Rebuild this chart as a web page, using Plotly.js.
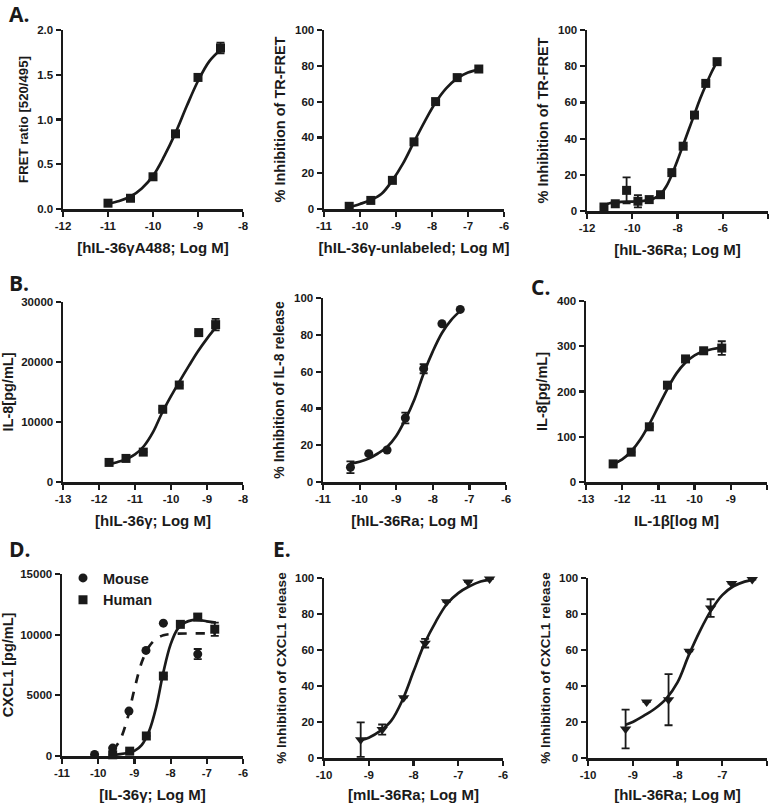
<!DOCTYPE html>
<html>
<head>
<meta charset="utf-8">
<script src="https://cdn.plot.ly/plotly-3.0.1.min.js"></script>
<style>html,body{margin:0;padding:0;background:#fff;}#chart{width:772px;height:803px;}</style>
</head>
<body>
<div id="chart"></div>
<script>
// ---------- Panel A1: hIL-36γA488 FRET ----------
const a1X = [-11, -10.5, -10, -9.5, -9, -8.5];
const a1Y = [0.065, 0.12, 0.36, 0.84, 1.47, 1.80];
const a1Err = [0, 0, 0, 0, 0, 0.06];
const a1FitX = [-11, -10.75, -10.5, -10.25, -10, -9.75, -9.5, -9.25, -9, -8.75, -8.5];
const a1FitY = [0.06, 0.09, 0.14, 0.23, 0.37, 0.59, 0.85, 1.15, 1.43, 1.65, 1.78];

// ---------- Panel A2: hIL-36γ-unlabeled ----------
const a2X = [-10.3, -9.7, -9.1, -8.5, -7.9, -7.3, -6.7];
const a2Y = [1.5, 4.8, 16, 37.5, 60, 73.4, 78.2];
const a2FitX = [-10.3, -10, -9.7, -9.4, -9.1, -8.8, -8.5, -8.2, -7.9, -7.6, -7.3, -7, -6.7];
const a2FitY = [1.0, 2.8, 5, 8.5, 16, 25.6, 37.5, 49, 59.5, 67.5, 73, 76.2, 78];

// ---------- Panel A3: hIL-36Ra TR-FRET ----------
const a3X = [-11.25, -10.75, -10.25, -9.75, -9.25, -8.75, -8.25, -7.75, -7.25, -6.75, -6.25];
const a3Y = [2.2, 4, 11.4, 5.4, 6.3, 9, 21.2, 35.8, 53, 70.5, 82.5];
const a3Err = [0, 0, 7.2, 3.4, 0, 0, 0, 0, 0, 0, 0];
const a3FitX = [-11.25, -11, -10.5, -10, -9.5, -9.25, -9, -8.75, -8.5, -8.25, -8, -7.75, -7.5, -7.25, -7, -6.75, -6.5, -6.25];
const a3FitY = [3, 4.3, 5, 5.2, 5.6, 6.2, 7.2, 9.2, 13.5, 20, 28, 36.5, 45, 53.5, 62, 69.5, 76.5, 82.5];

// ---------- Panel B1: IL-8 vs hIL-36γ ----------
const b1X = [-11.72, -11.25, -10.77, -10.23, -9.77, -9.23, -8.76];
const b1Y = [3265, 3930, 4980, 12120, 16160, 24900, 26230];
const b1Err = [0, 0, 0, 0, 0, 0, 970];
const b1FitX = [-11.75, -11.5, -11.25, -11, -10.75, -10.5, -10.25, -10, -9.75, -9.5, -9.25, -9, -8.75];
const b1FitY = [2900, 3300, 3800, 4600, 6000, 8300, 11500, 14300, 16900, 19400, 21800, 23900, 25800];

// ---------- Panel B2: % inhibition IL-8 by hIL-36Ra ----------
const b2X = [-10.25, -9.75, -9.25, -8.75, -8.25, -7.75, -7.25];
const b2Y = [8, 15.4, 17.4, 34.8, 61.6, 86, 93.8];
const b2Err = [3.2, 0, 0, 2.9, 2.5, 0, 0];
const b2FitX = [-10.25, -10, -9.75, -9.5, -9.25, -9, -8.75, -8.5, -8.25, -8, -7.75, -7.5, -7.25];
const b2FitY = [10, 11, 12.8, 15.5, 19, 25, 34, 45, 59, 71, 81, 88, 93];

// ---------- Panel C: IL-8 vs IL-1β ----------
const cX = [-12.25, -11.75, -11.25, -10.75, -10.25, -9.75, -9.25];
const cY = [40, 66, 122, 214, 272, 290, 296];
const cErr = [0, 0, 0, 0, 0, 0, 15];
const cFitX = [-12.25, -12, -11.75, -11.5, -11.25, -11, -10.75, -10.5, -10.25, -10, -9.75, -9.5, -9.25];
const cFitY = [40, 50, 68, 94, 128, 167, 206, 240, 264, 280, 289, 294, 297];

// ---------- Panel D: CXCL1 vs IL-36γ ----------
const seriesNames = ["Mouse", "Human"];
const dMouseX = [-10.1, -9.6, -9.15, -8.68, -8.2, -7.25];
const dMouseY = [120, 650, 3700, 8700, 10950, 8400];
const dMouseErr = [0, 0, 0, 0, 0, 420];
const dHumanX = [-9.6, -9.13, -8.67, -8.2, -7.73, -7.25, -6.78];
const dHumanY = [100, 400, 1650, 6590, 10850, 11450, 10450];
const dHumanErr = [0, 0, 0, 0, 0, 250, 550];
const dMouseFitX = [-9.6, -9.4, -9.2, -9, -8.8, -8.6, -8.4, -8.2, -8, -7.5, -7, -6.75];
const dMouseFitY = [450, 1300, 3000, 5500, 7700, 9000, 9650, 9950, 10050, 10100, 10100, 10100];
const dHumanFitX = [-9.6, -9.4, -9.2, -9, -8.8, -8.6, -8.4, -8.2, -8, -7.8, -7.6, -7.4, -7.2, -7, -6.75];
const dHumanFitY = [80, 150, 250, 420, 900, 2000, 4000, 6900, 9200, 10500, 11000, 11200, 11200, 11100, 11000];

// ---------- Panel E1: mIL-36Ra ----------
const e1X = [-9.18, -8.7, -8.22, -7.74, -7.26, -6.78, -6.3];
const e1Y = [10.2, 15.8, 33.5, 63.8, 86.8, 97.8, 99.4];
const e1Err = [9.6, 2.8, 0, 2.4, 0, 0, 0];
const e1FitX = [-9.18, -9, -8.75, -8.5, -8.25, -8, -7.75, -7.5, -7.25, -7, -6.75, -6.5, -6.3];
const e1FitY = [9.9, 11.3, 14.9, 20.6, 32, 48, 63.8, 75.8, 85.7, 91.6, 95.4, 98.1, 99];

// ---------- Panel E2: hIL-36Ra ----------
const e2X = [-9.16, -8.69, -8.2, -7.74, -7.26, -6.79, -6.33];
const e2Y = [16.1, 31.1, 32.4, 59.3, 83.3, 96.9, 99.1];
const e2Err = [10.8, 0, 14.2, 0, 4.9, 0, 0];
const e2FitX = [-9.16, -9, -8.75, -8.5, -8.25, -8, -7.75, -7.5, -7.25, -7, -6.75, -6.5, -6.33];
const e2FitY = [18.5, 20, 23.5, 27.5, 33, 42, 57, 70.5, 82, 90.5, 95.4, 98, 99];

// ---------- Axis tick labels / titles ----------
const xTicks1 = [-12, -11, -10, -9, -8];
const xTicks2 = [-11, -10, -9, -8, -7, -6];
const xTicks3 = [-12, -10, -8, -6, -4];
const xTicks4 = [-13, -12, -11, -10, -9, -8];
const xTicks7 = [-11, -10, -9, -8, -7, -6];
const xTicks8 = [-10, -9, -8, -7, -6];
const yTicksFret = [0, 0.5, 1.0, 1.5, 2.0];
const yTicksPct = [0, 20, 40, 60, 80, 100];
const yTicksIL8 = [0, 10000, 20000, 30000];
const yTicksC = [0, 100, 200, 300, 400];
const yTicksD = [0, 5000, 10000, 15000];
const xTitles = ["[hIL-36γA488; Log M]", "[hIL-36γ-unlabeled; Log M]", "[hIL-36Ra; Log M]",
  "[hIL-36γ; Log M]", "[hIL-36Ra; Log M]", "IL-1β[log M]",
  "[IL-36γ; Log M]", "[mIL-36Ra; Log M]", "[hIL-36Ra; Log M]"];
const yTitles = ["FRET ratio [520/495]", "% Inhibition of TR-FRET", "% Inhibition of TR-FRET",
  "IL-8[pg/mL]", "% Inhibition of IL-8 release", "IL-8[pg/mL]",
  "CXCL1 [pg/mL]", "% Inhibition of CXCL1 release", "% Inhibition of CXCL1 release"];
const panelLabels = ["A.", "B.", "C.", "D.", "E."];

const FONT = "Liberation Sans, Arial, sans-serif";
const W = 772, H = 803;
const fx = (a, b) => [a / W, b / W];
const fy = (top, bot) => [1 - bot / H, 1 - top / H];

const panels = [
  {xd: fx(63, 243), yd: fy(30, 209), xr: [-12, -8], xt: xTicks1, yr: [0, 2], yt: yTicksFret, yfmt: v => v.toFixed(1), ys: 13.2},
  {xd: fx(324, 504), yd: fy(30, 209), xr: [-11, -6], xt: xTicks2, yr: [0, 100], yt: yTicksPct, ys: 14.5},
  {xd: fx(587, 768), yd: fy(30, 211), xr: [-12, -4], xt: xTicks3, yr: [0, 100], yt: yTicksPct, ys: 14.5},
  {xd: fx(63, 243), yd: fy(302, 482), xr: [-13, -8], xt: xTicks4, yr: [0, 30000], yt: yTicksIL8, ys: 14.5},
  {xd: fx(323, 506), yd: fy(298, 482), xr: [-11, -6], xt: xTicks2, yr: [0, 100], yt: yTicksPct, ys: 14},
  {xd: fx(586, 767), yd: fy(301, 482), xr: [-13, -8], xt: xTicks4, yr: [0, 400], yt: yTicksC, ys: 14.5},
  {xd: fx(62, 243), yd: fy(574, 756), xr: [-11, -6], xt: xTicks7, yr: [0, 15000], yt: yTicksD, ys: 14.5},
  {xd: fx(324, 503), yd: fy(578, 758), xr: [-10, -6], xt: xTicks8, yr: [0, 100], yt: yTicksPct, ys: 13.5},
  {xd: fx(588, 767), yd: fy(578, 758), xr: [-10, -6], xt: xTicks8, yr: [0, 100], yt: yTicksPct, ys: 13.5}
];

const layout = {
  width: W, height: H,
  margin: {l: 0, r: 0, t: 0, b: 0},
  paper_bgcolor: "#fff", plot_bgcolor: "rgba(0,0,0,0)",
  font: {family: FONT, color: "#1a1a1a", size: 12},
  showlegend: true,
  legend: {x: 63 / W, y: 1 - 562 / H, xanchor: "left", yanchor: "top",
    bgcolor: "rgba(0,0,0,0)", font: {family: FONT, size: 14.5, weight: "bold", color: "#1a1a1a"},
    tracegroupgap: 0, itemwidth: 30},
  annotations: [],
  shapes: []
};

panels.forEach((p, i) => {
  const n = i + 1;
  const common = {showgrid: false, zeroline: false, showline: true, linecolor: "#1a1a1a", linewidth: 2.5,
    ticks: "outside", ticklen: 5, tickwidth: 2.2, tickcolor: "#1a1a1a",
    tickfont: {family: FONT, size: 11.5, weight: "bold", color: "#1a1a1a"}, fixedrange: true};
  layout["xaxis" + (n === 1 ? "" : n)] = Object.assign({}, common, {
    domain: p.xd, range: p.xr, anchor: "y" + (n === 1 ? "" : n),
    tickmode: "array", tickvals: p.xt, ticktext: p.xt.map(v => String(v)),
    title: {text: xTitles[i], font: {family: FONT, size: 15, weight: "bold", color: "#1a1a1a"}, standoff: 11}
  });
  layout["yaxis" + (n === 1 ? "" : n)] = Object.assign({}, common, {
    domain: p.yd, range: p.yr, anchor: "x" + (n === 1 ? "" : n),
    tickmode: "array", tickvals: p.yt, ticktext: p.yt.map(v => p.yfmt ? p.yfmt(v) : String(v)),
    title: {text: yTitles[i], font: {family: FONT, size: p.ys, weight: "bold", color: "#1a1a1a"}, standoff: 6}
  });
});

const labelPos = [[7, 14], [7, 283], [529, 287], [7, 549], [271, 549]];
panelLabels.forEach((t, i) => {
  layout.annotations.push({text: t, x: labelPos[i][0] / W, y: 1 - labelPos[i][1] / H, xref: "paper", yref: "paper",
    xanchor: "left", yanchor: "middle", showarrow: false,
    font: {family: "Open Sans, sans-serif", size: 21, weight: "bold", color: "#1a1a1a"}});
});

const BLACK = "#1a1a1a";
function fit(x, y, n, dash) {
  return {x: x, y: y, xaxis: "x" + (n === 1 ? "" : n), yaxis: "y" + (n === 1 ? "" : n),
    mode: "lines", line: {color: BLACK, width: 2.7, shape: "spline", smoothing: 1, dash: dash || "solid"},
    showlegend: false, hoverinfo: "skip", cliponaxis: false};
}
function pts(x, y, err, n, symbol, size, name, legend) {
  const t = {x: x, y: y, xaxis: "x" + (n === 1 ? "" : n), yaxis: "y" + (n === 1 ? "" : n),
    mode: "markers", marker: {symbol: symbol, size: size, color: BLACK},
    showlegend: !!legend, name: name || "", cliponaxis: false};
  if (err) t.error_y = {type: "data", array: err, visible: true, color: BLACK, thickness: 1.8, width: 4};
  return t;
}

const data = [
  fit(a1FitX, a1FitY, 1), pts(a1X, a1Y, a1Err, 1, "square", 9),
  fit(a2FitX, a2FitY, 2), pts(a2X, a2Y, null, 2, "square", 9),
  fit(a3FitX, a3FitY, 3), pts(a3X, a3Y, a3Err, 3, "square", 9),
  fit(b1FitX, b1FitY, 4), pts(b1X, b1Y, b1Err, 4, "square", 9),
  fit(b2FitX, b2FitY, 5), pts(b2X, b2Y, b2Err, 5, "circle", 9),
  fit(cFitX, cFitY, 6), pts(cX, cY, cErr, 6, "square", 9),
  fit(dMouseFitX, dMouseFitY, 7, "dash"), fit(dHumanFitX, dHumanFitY, 7),
  pts(dMouseX, dMouseY, dMouseErr, 7, "circle", 9, seriesNames[0], true),
  pts(dHumanX, dHumanY, dHumanErr, 7, "square", 9, seriesNames[1], true),
  fit(e1FitX, e1FitY, 8), pts(e1X, e1Y, e1Err, 8, "triangle-down", 10),
  fit(e2FitX, e2FitY, 9), pts(e2X, e2Y, e2Err, 9, "triangle-down", 10)
];

Plotly.newPlot("chart", data, layout, {staticPlot: true, displayModeBar: false});
</script>
</body>
</html>
